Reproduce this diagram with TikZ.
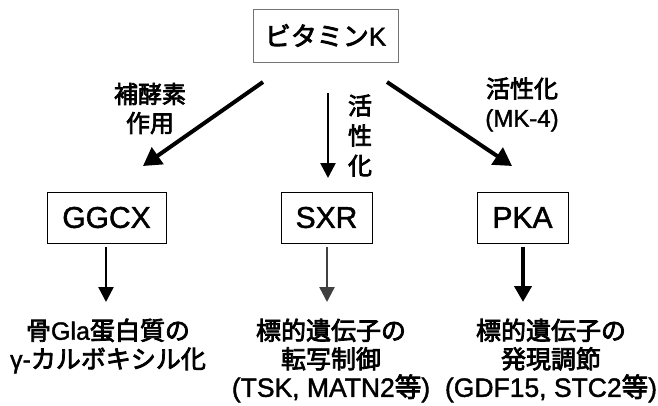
\documentclass[tikz,border=0pt]{standalone}
\usepackage{fontspec}
\setmainfont[FakeBold=1.5]{Liberation Sans}
\newfontfamily\jp[FakeBold=3]{Noto Sans CJK JP}
\usetikzlibrary{arrows.meta}
\begin{document}
\begin{tikzpicture}[x=1pt,y=-1pt,
  box/.style={draw, line width=0.9pt, minimum height=51pt, inner sep=0pt, font=\fontsize{30}{32}\selectfont},
  lbl/.style={align=center, inner sep=0pt, font=\fontsize{24}{29}\selectfont},
  res/.style={align=center, inner sep=0pt, font=\fontsize{25}{28.5}\selectfont},
  bigarr/.style={-{Triangle[length=18pt,width=20pt]}, line width=4pt},
  midarr/.style={-{Triangle[length=15pt,width=15pt]}, line width=2.6pt},
  downarr/.style={-{Triangle[length=15pt,width=15pt]}, line width=2.4pt},
]
\useasboundingbox (0,0) rectangle (658,405);

\node[box, draw=black!55, minimum width=145pt, minimum height=53pt, font=\fontsize{26}{28}\selectfont] (vk) at (325.5,35.5) {{\jp ビタミン}K};

\node[box, minimum width=119pt] (ggcx) at (106.5,217.5) {GGCX};
\node[box, minimum width=91pt] (sxr) at (326.5,217.5) {SXR};
\node[box, minimum width=91pt] (pka) at (522.5,217.5) {PKA};

% diagonal / middle arrows
\coordinate (l1) at (263,82);
\coordinate (l2) at (143,166);
\coordinate (m1) at (328,93);
\coordinate (m2) at (328,178);
\coordinate (r1) at (387,82);
\coordinate (r2) at (512,166);
\draw[bigarr] (l1) -- (l2);
\draw[midarr] (m1) -- (m2);
\draw[bigarr] (r1) -- (r2);

\node[lbl] (lab1) at (150,108.5) {{\jp 補酵素}\\{\jp 作用}};
\node[lbl, font=\fontsize{24}{30}\selectfont] (lab2) at (360,135.5) {{\jp 活}\\{\jp 性}\\{\jp 化}};
\node[lbl] (lab3) at (522,104.5) {{\jp 活性化}\\(MK-4)};

% results
\node[res] (res1) at (108,346) {{\jp 骨}Gla{\jp 蛋白質の}\\γ-{\jp カルボキシル化}};
\node[res] (res2) at (331,360.5) {{\jp 標的遺伝子の}\\{\jp 転写制御}\\{\fontsize{26.5}{28.5}\selectfont (TSK, MATN2{\jp 等})}};
\node[res] (res3) at (551,360.5) {{\jp 標的遺伝子の}\\{\jp 発現調節}\\{\fontsize{26.5}{28.5}\selectfont (GDF15, STC2{\jp 等})}};

\coordinate (g2) at (106,302);
\coordinate (s2) at (327,302);
\coordinate (p2) at (523,302);
\draw[downarr] ([yshift=-4pt]ggcx.south -| g2) -- (g2);
\draw[downarr, draw=black!75, fill=black!75] ([yshift=-4pt]sxr.south -| s2) -- (s2);
\draw[downarr, line width=4.5pt, -{Triangle[length=16pt,width=17pt]}] ([yshift=-4pt]pka.south -| p2) -- (p2);
\end{tikzpicture}
\end{document}
